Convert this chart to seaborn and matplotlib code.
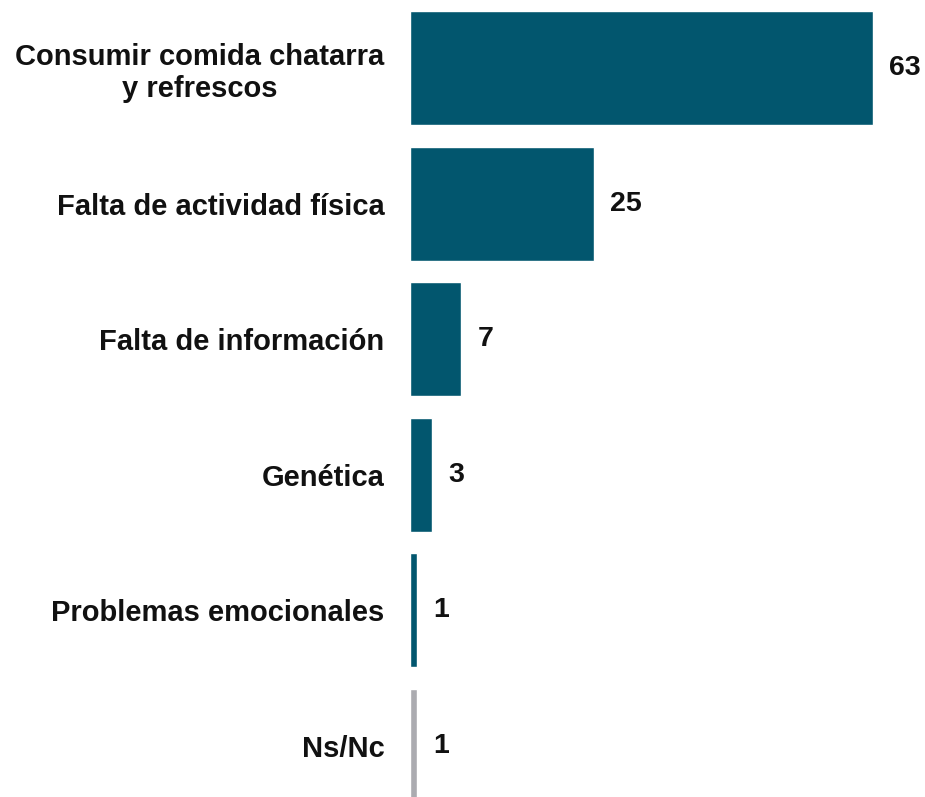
import matplotlib
matplotlib.use("Agg")
import matplotlib.pyplot as plt
import seaborn as sns
import pandas as pd

categories = ["Consumir comida chatarra\ny refrescos", "Falta de actividad física",
              "Falta de información", "Genética", "Problemas emocionales", "Ns/Nc"]
values = [63, 25, 7, 3, 1, 1]
groups = ["main", "main", "main", "main", "main", "nsnc"]

df = pd.DataFrame({"cat": categories, "val": values, "grp": groups})

sns.set_theme(style="white")
plt.rcParams['font.family'] = ['Liberation Sans', 'DejaVu Sans']

fig = plt.figure(figsize=(9.25, 7.97), dpi=100)
ax = fig.add_axes([410/925, 0, 515/925, 1])
sns.barplot(data=df, y="cat", x="val", hue="grp", orient="h",
            palette={"main": "#02566E", "nsnc": "#ABABB0"},
            width=0.84, dodge=False, legend=False, ax=ax, saturation=1)

ax.set_xlim(0, 515/7.35)
ax.set_ylim(5 + 51/135.6, -68/135.6)
for i, v in enumerate(values):
    ax.text(v + 16/7.35, i, f"{v}", va="center", ha="left",
            fontsize=20.5, fontweight="bold", color="#111111")
ax.set_xlabel("")
ax.set_ylabel("")
ax.set_xticks([])
ax.tick_params(axis="y", length=0, pad=18.5)
for lab in ax.get_yticklabels():
    lab.set_fontsize(21)
    lab.set_fontweight("bold")
    lab.set_color("#111111")
    lab.set_multialignment("center")
for s in ax.spines.values():
    s.set_visible(False)
ax.set_facecolor("none")
fig.savefig("out.png", dpi=100)
